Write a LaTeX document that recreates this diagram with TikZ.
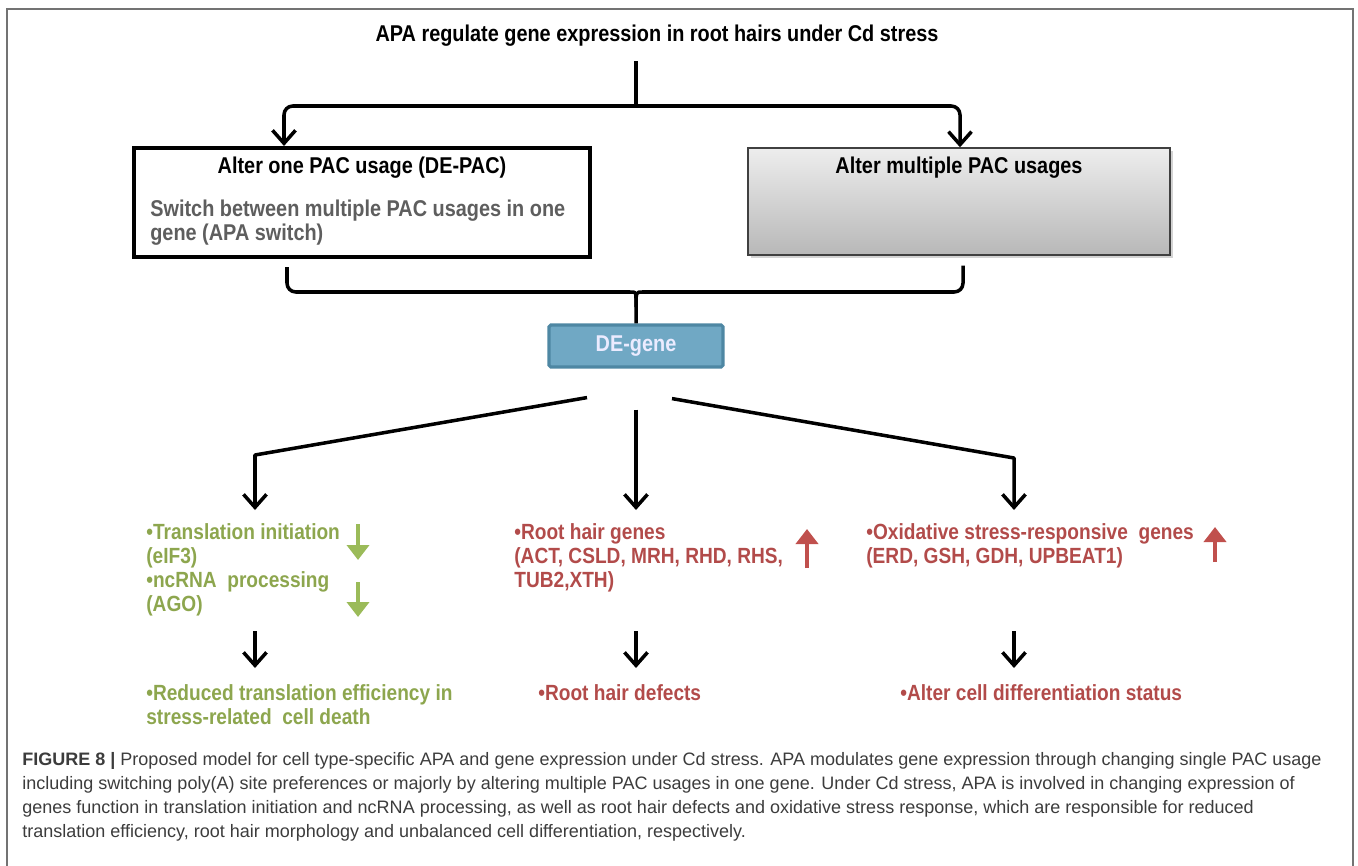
\documentclass[tikz,border=0pt]{standalone}
\usepackage{fontspec}
\setmainfont{Liberation Sans}
\newfontfamily\narrowfont[FakeStretch=0.87]{Liberation Sans}
\usepackage{tikz}
\usetikzlibrary{shapes,shadows,arrows.meta,calc}
\definecolor{framegray}{rgb}{0.45,0.45,0.45}
\definecolor{bodygray}{rgb}{0.37,0.37,0.37}
\definecolor{degene}{RGB}{112,168,196}
\definecolor{degeneline}{RGB}{78,135,163}
\definecolor{downgreen}{RGB}{155,187,89}
\definecolor{greentext}{RGB}{141,166,78}
\definecolor{upred}{RGB}{192,80,77}
\definecolor{redtext}{RGB}{178,75,74}
\definecolor{captiongray}{RGB}{60,60,60}
\tikzstyle{flow}=[line width=2pt, draw=black, line join=round]
\tikzstyle{flowarrow}=[flow, -{Straight Barb[length=2.6mm,width=4.6mm,line width=2pt]}]
\tikzstyle{onebox}=[rectangle, draw=black, line width=2.3pt, fill=white, minimum width=9.12cm, minimum height=2.18cm]
\tikzstyle{multibox}=[rectangle, draw=black!75, line width=0.8pt, top color=black!7, bottom color=black!28, minimum width=8.44cm, minimum height=2.14cm, drop shadow={shadow xshift=0.6mm, shadow yshift=-0.6mm, opacity=0.35}]
\tikzstyle{genebox}=[rectangle, draw=degeneline, line width=1.8pt, fill=degene, minimum width=3.48cm, minimum height=0.84cm, rounded corners=1pt]
\tikzstyle{headtext}=[font=\narrowfont\bfseries\fontsize{13}{15}\selectfont]
\tikzstyle{bodytext}=[inner sep=0pt, anchor=north west, align=left, text=bodygray, font=\narrowfont\bfseries\fontsize{13}{13.66}\selectfont]
\tikzstyle{effect}=[inner sep=0pt, anchor=north west, align=left, font=\narrowfont\bfseries\fontsize{12.5}{13.66}\selectfont]
\tikzstyle{blockdown}=[draw=downgreen, line width=0.8mm, -{Triangle[length=3mm,width=4.4mm]}]
\tikzstyle{blockup}=[draw=upred, line width=0.8mm, -{Triangle[length=3mm,width=4.4mm]}]
\newcommand{\effecttext}[4]{
	\node[effect, text=#3] (#1) at (#2) {#4};}

\begin{document}
\begin{tikzpicture}
\useasboundingbox (0,0) rectangle (27.16cm,-17.32cm);
\draw[framegray, line width=1.2pt] (0.14cm,-17.4cm) -- (0.14cm,-0.18cm) -- (27.06cm,-0.18cm) -- (27.06cm,-17.4cm);

\node[headtext] (top) at (13.14cm,-0.72cm) {APA regulate gene expression in root hairs under Cd stress};

\node[onebox] (one) at (7.24cm,-4.05cm) {};
\node[headtext] (onet) at (7.24cm,-3.36cm) {Alter one PAC usage (DE-PAC)};
\node[bodytext] (ones) at (3.0cm,-4.0cm) {Switch between multiple PAC usages in one\\gene (APA switch)};

\node[multibox] (multi) at (19.18cm,-4.03cm) {};
\node[headtext] (multit) at (19.18cm,-3.36cm) {Alter multiple PAC usages};

\node[genebox, headtext, text=white!92!blue] (gene) at (12.72cm,-6.92cm) {DE-gene};

\coordinate (split) at (12.72cm,-2.12cm);
\coordinate (join) at (12.72cm,-5.84cm);
\coordinate (lbend) at (5.10cm,-9.10cm);
\coordinate (rbend) at (20.28cm,-9.16cm);

\effecttext{trans}{2.92cm,-10.46cm}{greentext}{•Translation initiation\\(eIF3)\\•ncRNA~ processing\\(AGO)}
\effecttext{roots}{10.28cm,-10.46cm}{redtext}{•Root hair genes\\(ACT, CSLD, MRH, RHD, RHS,\\TUB2,XTH)}
\effecttext{oxid}{17.32cm,-10.46cm}{redtext}{•Oxidative stress-responsive~~genes\\(ERD, GSH, GDH, UPBEAT1)}
\effecttext{death}{2.92cm,-13.68cm}{greentext}{•Reduced translation efficiency in\\stress-related~~cell death}
\effecttext{defect}{10.76cm,-13.68cm}{redtext}{•Root hair defects}
\effecttext{status}{18.0cm,-13.68cm}{redtext}{•Alter cell differentiation status}

% top split
\draw[flow, shorten <=0.17cm] (split |- top.south) -- (split);
\draw[flowarrow, rounded corners=5pt] (split) -| ([xshift=-1.56cm]one.north);
\draw[flowarrow, rounded corners=5pt] (split) -| ([xshift=0.02cm]multi.north);

% bracket into DE-gene
\draw[flow, rounded corners=5pt] ([xshift=-1.5cm,yshift=-0.16cm]one.south) |- ($(join)+(-0.3cm,0)$) .. controls (join) .. ($(join)+(0,-0.3cm)$) -- (gene.north);
\draw[flow, rounded corners=5pt] ([xshift=0.08cm,yshift=-0.2cm]multi.south) |- ($(join)+(0.3cm,0)$) .. controls (join) .. ($(join)+(0,-0.3cm)$);

% three branches
\draw[flowarrow, shorten >=0.26cm] ([xshift=-0.98cm,yshift=-0.58cm]gene.south) -- (lbend) -- (lbend |- trans.north);
\draw[flowarrow, shorten >=0.26cm] ([yshift=-0.82cm]gene.south) -- (gene.south |- roots.north);
\draw[flowarrow, shorten >=0.26cm] ([xshift=0.72cm,yshift=-0.6cm]gene.south) -- (rbend) -- (rbend |- oxid.north);

\draw[flowarrow, shorten <=0.30cm, shorten >=0.32cm] (lbend |- trans.south) -- (lbend |- death.north);
\draw[flowarrow, shorten <=0.78cm, shorten >=0.32cm] (gene.south |- roots.south) -- (gene.south |- defect.north);
\draw[flowarrow, shorten <=1.26cm, shorten >=0.32cm] (rbend |- oxid.south) -- (rbend |- status.north);

% up and down marks
\draw[blockdown] (7.16cm,-10.48cm) -- (7.16cm,-11.2cm);
\draw[blockdown] (7.16cm,-11.64cm) -- (7.16cm,-12.34cm);
\draw[blockup] (16.14cm,-11.36cm) -- (16.14cm,-10.58cm);
\draw[blockup] (24.3cm,-11.24cm) -- (24.3cm,-10.54cm);

\node[anchor=north west, inner sep=0pt, align=left, text=captiongray, font=\fontsize{10.25}{13.66}\selectfont] (caption) at (0.44cm,-15.04cm) {\textbf{FIGURE 8 |} Proposed model for cell type-specific APA and gene expression under Cd stress. APA modulates gene expression through changing single PAC usage\\including switching poly(A) site preferences or majorly by altering multiple PAC usages in one gene. Under Cd stress, APA is involved in changing expression of\\genes function in translation initiation and ncRNA processing, as well as root hair defects and oxidative stress response, which are responsible for reduced\\translation efficiency, root hair morphology and unbalanced cell differentiation, respectively.};
\end{tikzpicture}
\end{document}
